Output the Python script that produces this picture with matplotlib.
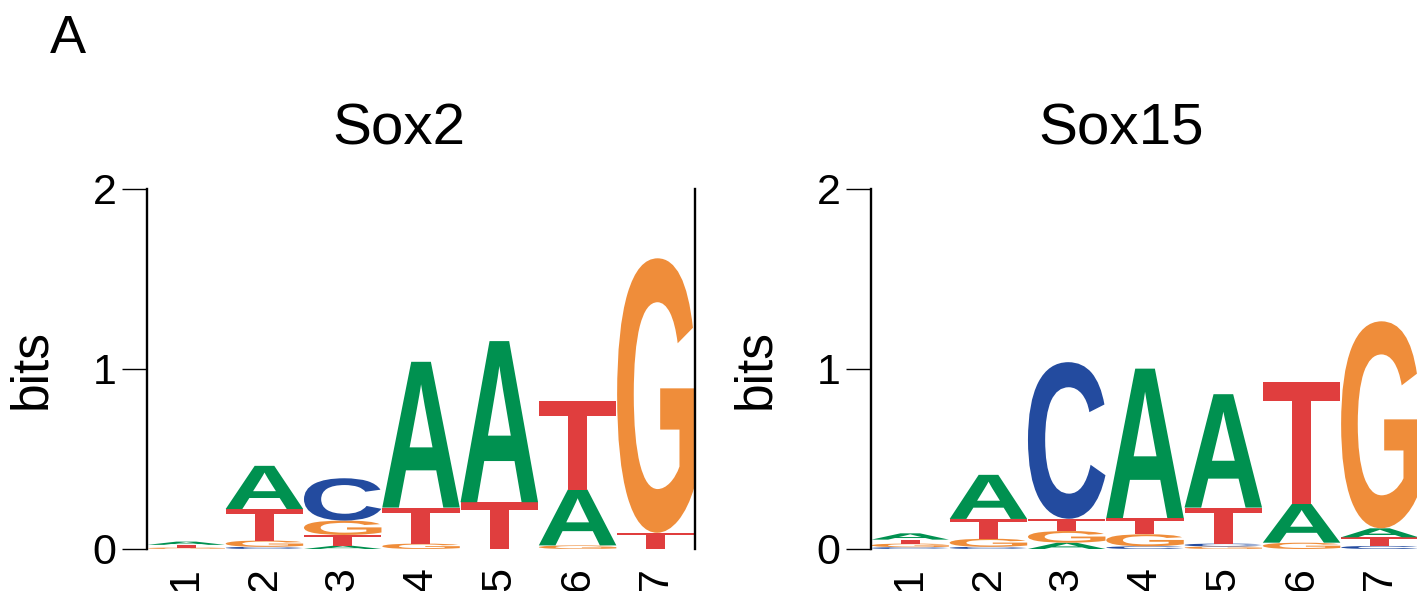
import numpy as np
import matplotlib
matplotlib.use('Agg')
import matplotlib.pyplot as plt
from matplotlib.textpath import TextPath
from matplotlib.patches import PathPatch
from matplotlib.font_manager import FontProperties
import matplotlib.transforms as mtrans

plt.rcParams['font.family'] = ['Liberation Sans', 'DejaVu Sans']

# bits per letter, positions 1..7
positions = [1, 2, 3, 4, 5, 6, 7]

sox2_A = [0.018, 0.24, 0.018, 0.81, 0.895, 0.31, 0.0]
sox2_C = [0.0, 0.012, 0.235, 0.0, 0.0, 0.0, 0.0]
sox2_G = [0.008, 0.035, 0.08, 0.03, 0.0, 0.02, 1.525]
sox2_T = [0.015, 0.175, 0.06, 0.2, 0.26, 0.49, 0.09]

sox15_A = [0.035, 0.245, 0.035, 0.83, 0.63, 0.215, 0.05]
sox15_C = [0.01, 0.012, 0.87, 0.015, 0.016, 0.0, 0.017]
sox15_G = [0.02, 0.045, 0.065, 0.067, 0.014, 0.035, 1.15]
sox15_T = [0.022, 0.11, 0.068, 0.09, 0.2, 0.68, 0.048]

colors = {'A': '#009150', 'C': '#234B9F', 'G': '#EF8D3A', 'T': '#E03E3E'}

glyph_font = FontProperties(family='Liberation Sans', weight='bold')


def draw_letter(ax, ch, x0, y0, w, h, color):
    tp = TextPath((0, 0), ch, size=1, prop=glyph_font)
    bb = tp.get_extents()
    t = (mtrans.Affine2D().translate(-bb.x0, -bb.y0)
         .scale(w / bb.width, h / bb.height).translate(x0, y0))
    ax.add_patch(PathPatch(t.transform_path(tp), facecolor=color,
                           edgecolor='none', lw=0))


def draw_logo(ax, A, C, G, T, right_spine=True):
    for i, pos in enumerate(positions):
        col = [('A', A[i]), ('C', C[i]), ('G', G[i]), ('T', T[i])]
        col = sorted([c for c in col if c[1] > 0], key=lambda c: c[1])
        y = 0.0
        for ch, h in col:
            draw_letter(ax, ch, pos - 0.5 + 0.005, y, 0.99, h, colors[ch])
            y += h
    ax.set_xlim(0.5, 7.5)
    ax.set_ylim(0, 2)
    ax.set_yticks([0, 1, 2])
    ax.set_xticks(positions)
    ax.set_xticklabels([str(p) for p in positions], rotation=90, fontsize=31)
    ax.tick_params(axis='x', length=0, pad=13)
    ax.tick_params(axis='y', length=18, width=1, labelsize=31, pad=4)
    ax.spines['top'].set_visible(False)
    ax.spines['bottom'].set_visible(False)
    ax.spines['right'].set_visible(right_spine)
    ax.spines['left'].set_linewidth(1.7)
    ax.spines['right'].set_linewidth(1.7)
    ax.set_ylabel('bits', fontsize=37)
    ax.yaxis.set_label_coords((56 - 147) / 548, 0.5)


fig = plt.figure(figsize=(14.17, 5.91), dpi=100)
ax1 = fig.add_axes([147 / 1417, 42 / 591, 548 / 1417, 360 / 591])
ax2 = fig.add_axes([871 / 1417, 42 / 591, 548 / 1417, 360 / 591])

draw_logo(ax1, sox2_A, sox2_C, sox2_G, sox2_T, right_spine=True)
draw_logo(ax2, sox15_A, sox15_C, sox15_G, sox15_T, right_spine=False)

fig.text(399 / 1417, 1 - 144 / 591, 'Sox2', fontsize=42, ha='center', va='baseline')
fig.text(1121 / 1417, 1 - 144 / 591, 'Sox15', fontsize=42, ha='center', va='baseline')
fig.text(50 / 1417, 1 - 53 / 591, 'A', fontsize=39, ha='left', va='baseline')

fig.savefig('out.png', dpi=100)
